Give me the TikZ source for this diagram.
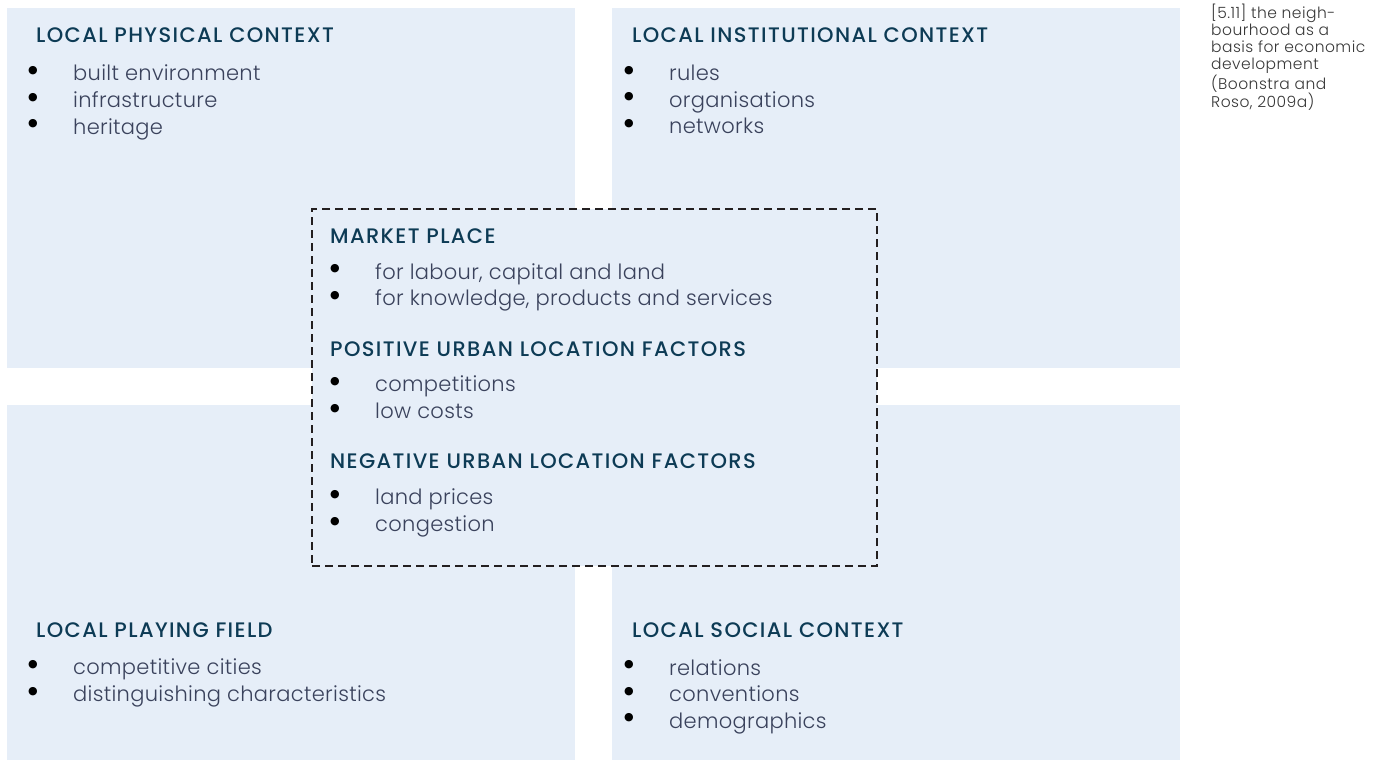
\documentclass[tikz,border=0pt]{standalone}
\usepackage{fontspec}
\setmainfont{Poppins Light}[LetterSpace=1.5]
\newfontfamily\headfont{Poppins Medium}[LetterSpace=6.5]
\newfontfamily\notefont{Poppins Light}[LetterSpace=3]
\newfontfamily\dotfont{DejaVu Sans}
\usetikzlibrary{positioning}

\definecolor{panelblue}{RGB}{230,238,248}
\definecolor{headnavy}{RGB}{13,59,85}
\definecolor{bodyslate}{RGB}{58,66,92}
\definecolor{dashgrey}{RGB}{35,31,32}

% bullet item with a fixed indent
\newcommand{\itm}[1]{\makebox[45pt][l]{\textcolor{black}{\raisebox{7.5pt}{\dotfont\fontsize{11}{11}\selectfont ●}}}#1}

\begin{document}
\begin{tikzpicture}[x=1pt, y=-1pt,
  panel/.style={fill=panelblue, inner sep=0pt, outer sep=0pt, anchor=north west, minimum width=568pt},
  head/.style={font=\headfont\fontsize{21}{25}\selectfont, text=headnavy, inner sep=0pt, anchor=north west},
  items/.style={font=\fontsize{21}{26.6}\selectfont, text=bodyslate, align=left, inner sep=0pt, anchor=north west},
  market/.style={draw=dashgrey, fill=panelblue, line width=2.4pt, dash pattern=on 8pt off 5pt, inner sep=0pt, anchor=north west, minimum width=565pt, minimum height=357pt}
]
  \useasboundingbox (0,0) rectangle (1376,760);

  % the four context panels
  \node[panel, minimum height=360pt] (physical) at (7,8) {};
  \node[panel, minimum height=360pt] (institutional) at (612,8) {};
  \node[panel, minimum height=355pt] (playing) at (7,405) {};
  \node[panel, minimum height=355pt] (social) at (612,405) {};

  \node[head] (physhead) at (36,28) {LOCAL PHYSICAL CONTEXT};
  \node[items] (physlist) at (28,65) {\itm{built environment}\\ \itm{infrastructure}\\ \itm{heritage}};

  \node[head] (insthead) at (632,28) {LOCAL INSTITUTIONAL CONTEXT};
  \node[items] (instlist) at (624,65) {\itm{rules}\\ \itm{organisations}\\ \itm{networks}};

  \node[head] (playhead) at (36,623) {LOCAL PLAYING FIELD};
  \node[items] (playlist) at (28,659) {\itm{competitive cities}\\ \itm{distinguishing characteristics}};

  \node[head] (sochead) at (632,623) {LOCAL SOCIAL CONTEXT};
  \node[items] (soclist) at (624,659) {\itm{relations}\\ \itm{conventions}\\ \itm{demographics}};

  % market place in the middle, over the gaps
  \node[market] (market) at (311,208) {};

  \node[head] (markhead) at (330,229) {MARKET PLACE};
  \node[items] (marklist) at (330,263) {\itm{for labour, capital and land}\\ \itm{for knowledge, products and services}};

  \node[head] (poshead) at (330,342) {POSITIVE URBAN LOCATION FACTORS};
  \node[items] (poslist) at (330,376) {\itm{competitions}\\ \itm{low costs}};

  \node[head] (neghead) at (330,454) {NEGATIVE URBAN LOCATION FACTORS};
  \node[items] (neglist) at (330,489) {\itm{land prices}\\ \itm{congestion}};

  % caption
  \node[font=\notefont\fontsize{15.5}{17}\selectfont, text=black!78, align=left, inner sep=0pt, anchor=north west] (caption) at (1211,4)
    {[5.11] the neigh-\\bourhood as a\\basis for economic\\development\\(Boonstra and\\Roso, 2009a)};
\end{tikzpicture}
\end{document}
